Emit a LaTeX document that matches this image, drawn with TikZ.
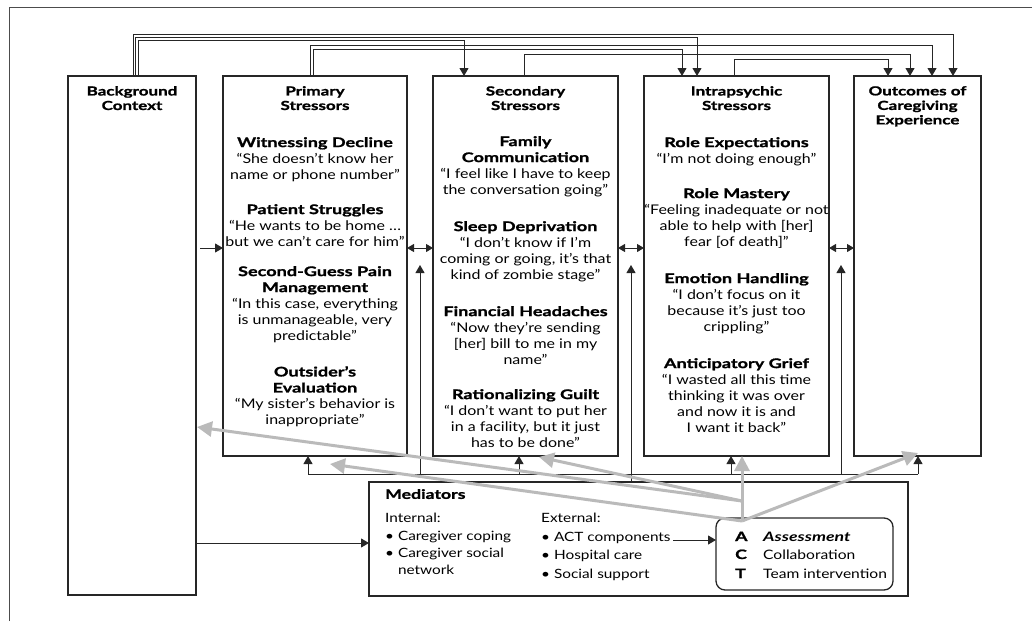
\documentclass[tikz,border=0pt]{standalone}
\usepackage{fontspec}
\setmainfont{Lato}[FakeStretch=1.2]
\newfontfamily\hdfont{Lato}[FakeStretch=1.36,BoldFeatures={FakeBold=1.3}]
\usetikzlibrary{arrows.meta}
\newcommand{\hd}[1]{{\hdfont\bfseries #1}}
\begin{document}
\begin{tikzpicture}[x=1pt,y=-1pt,
  box/.style={draw=black!85,line width=1.3pt,inner sep=0,outer sep=0},
  conn/.style={draw=black!85,line width=1pt},
  arr/.style={conn,-{Triangle[length=8pt,width=9pt]}},
  darr/.style={conn,{Triangle[length=7pt,width=8pt]}-{Triangle[length=7pt,width=8pt]}},
  garr/.style={draw=black!27,line width=3pt,-{Triangle[length=15pt,width=15pt]}},
  colhead/.style={anchor=north,align=center,inner sep=0,font=\hdfont\bfseries\fontsize{12.5}{14.5}\selectfont},
  item/.style={anchor=north,align=center,inner sep=0,font=\fontsize{13.3}{16}\selectfont},
  medtxt/.style={anchor=north west,align=left,inner sep=0,font=\fontsize{12.8}{17}\selectfont},
  actl/.style={anchor=base west,inner sep=0,font=\hdfont\bfseries\fontsize{13}{15}\selectfont},
  actw/.style={anchor=base west,inner sep=0,font=\fontsize{13}{15}\selectfont},
]
\useasboundingbox (0,0) rectangle (1032,621);
\draw[black!70,line width=0.8pt] (9,621) -- (9,7) -- (1032,7);

% boxes
\node[box,minimum width=128pt,minimum height=519pt] (bg) at (132,335.5) {};
\node[box,minimum width=184pt,minimum height=380pt] (prim) at (315,266) {};
\node[box,minimum width=185pt,minimum height=380pt] (sec) at (525.5,266) {};
\node[box,minimum width=185pt,minimum height=380pt] (intra) at (736.5,266) {};
\node[box,minimum width=127pt,minimum height=380pt] (out) at (917.5,266) {};
\node[box,minimum width=539pt,minimum height=114pt] (med) at (638.5,539) {};
\node[box,rounded corners=9pt,minimum width=177pt,minimum height=72pt] (act) at (804.5,554) {};

% column headings
\node[colhead] (bgh) at (132,86) {Background\\Context};
\node[colhead] (prh) at (315,86) {Primary\\Stressors};
\node[colhead] (seh) at (525.5,86) {Secondary\\Stressors};
\node[colhead] (inh) at (736.5,86) {Intrapsychic\\Stressors};
\node[colhead] (ouh) at (917.5,86) {Outcomes of\\Caregiving\\Experience};

% primary
\node[item] (p1) at (315,137) {\hd{Witnessing Decline}\\“She doesn’t know her\\name or phone number”};
\node[item] (p2) at (315,204) {\hd{Patient Struggles}\\“He wants to be home …\\but we can’t care for him”};
\node[item] (p3) at (315,266) {\hd{Second-Guess Pain}\\\hd{Management}\\“In this case, everything\\is unmanageable, very\\predictable”};
\node[item] (p4) at (315,366) {\hd{Outsider’s}\\\hd{Evaluation}\\“My sister’s behavior is\\inappropriate”};

% secondary
\node[item] (s1) at (525.5,136) {\hd{Family}\\\hd{Communication}\\“I feel like I have to keep\\the conversation going”};
\node[item] (s2) at (525.5,221) {\hd{Sleep Deprivation}\\“I don’t know if I’m\\coming or going, it’s that\\kind of zombie stage”};
\node[item] (s3) at (525.5,306) {\hd{Financial Headaches}\\“Now they’re sending\\{[}her{]} bill to me in my\\name”};
\node[item] (s4) at (525.5,389) {\hd{Rationalizing Guilt}\\“I don’t want to put her\\in a facility, but it just\\has to be done”};

% intrapsychic
\node[item] (i1) at (736.5,137) {\hd{Role Expectations}\\“I’m not doing enough”};
\node[item] (i2) at (736.5,188) {\hd{Role Mastery}\\“Feeling inadequate or not\\able to help with [her]\\fear [of death]”};
\node[item] (i3) at (736.5,273) {\hd{Emotion Handling}\\“I don’t focus on it\\because it’s just too\\crippling”};
\node[item] (i4) at (736.5,358) {\hd{Anticipatory Grief}\\“I wasted all this time\\thinking it was over\\and now it is and\\I want it back”};

% mediators
\node[anchor=north west,inner sep=0,font=\hdfont\bfseries\fontsize{13}{15}\selectfont] (medh) at (385,489) {Mediators};
\node[medtxt] (int) at (385,513) {Internal:\\[1pt]• Caregiver coping\\• Caregiver social\\\phantom{• }network};
\node[medtxt,font=\fontsize{12.8}{18.5}\selectfont] (ext) at (541,513) {External:\\• ACT components\\• Hospital care\\• Social support};

% ACT
\node[actl] (la) at (735,541) {A};
\node[actl] (lc) at (735,559) {C};
\node[actl] (lt) at (735,578) {T};
\node[actw,font=\hdfont\bfseries\itshape\fontsize{13}{15}\selectfont] (wa) at (763,541) {Assessment};
\node[actw] (wc) at (763,559) {Collaboration};
\node[actw] (wt) at (763,578) {Team intervention};

% top connectors
\draw[arr] ([xshift=1pt]bg.north) -- ++(0,-42) -| ([xshift=35.5pt]out.north);
\draw[arr] ([xshift=3.5pt]bg.north) -- ++(0,-39) -| ([xshift=-39.5pt]intra.north);
\draw[arr] ([xshift=6pt]bg.north) -- ++(0,-36) -| ([xshift=-61.5pt]sec.north);
\draw[arr] ([xshift=-5pt]prim.north) -- ++(0,-31) -| ([xshift=14.5pt]out.north);
\draw[arr] ([xshift=-2pt]prim.north) -- ++(0,-27) -| ([xshift=-54.5pt]intra.north);
\draw[arr] ([xshift=-1.5pt]sec.north) -- ++(0,-22) -| ([xshift=-7.5pt]out.north);
\draw[arr] ([xshift=-2.5pt]intra.north) -- ++(0,-17) -| ([xshift=-29.5pt]out.north);

% side arrows
\draw[arr,shorten <=4pt] (bg.east |- 0,248) -- (prim.west |- 0,248);
\draw[darr] (prim.east |- 0,248) -- (sec.west |- 0,248);
\draw[darr] (sec.east |- 0,248) -- (intra.west |- 0,248);
\draw[darr] (intra.east |- 0,248) -- (out.west |- 0,248);

% bus from mediators
\coordinate (busL) at (308,474);
\coordinate (busS) at (519,474);
\coordinate (busI) at (731,474);
\coordinate (busO) at (918,474);
\coordinate (g1) at (420,474);
\coordinate (g3) at (841,474);
\draw[conn] (busL) -- (busO);
\draw[arr] (busL) -- (busL |- prim.south);
\draw[arr] (busS) -- (busS |- sec.south);
\draw[arr] (busI) -- (busI |- intra.south);
\draw[arr] (busO) -- (busO |- out.south);
\draw[arr] (g1) -- (420,265);
\draw[arr] (med.north -| 631,0) -- (631,265);
\draw[arr] (g3) -- (841,265);

% background to mediators, ACT components to ACT
\draw[arr] (bg.east |- 0,543) -- (med.west |- 0,543);
\coordinate (acts) at (673,540);
\draw[arr] (acts) -- (act.west |- acts);

% gray ACT arrows
\coordinate (o1) at (742,501);
\coordinate (o2) at (742,521);
\draw[garr] (o1) -- (197,427);
\draw[garr] (o1) -- (539,457);
\draw[garr] (o2) -- (330,464);
\draw[garr] (o2) -- (742,456);
\draw[garr] (o2) -- (918,453);
\end{tikzpicture}
\end{document}
